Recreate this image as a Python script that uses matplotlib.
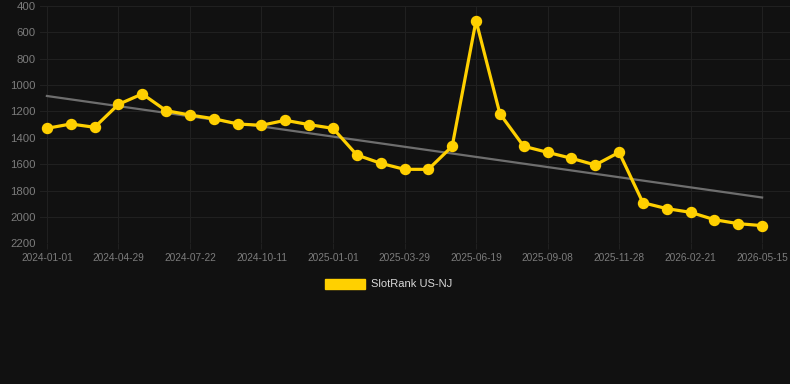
import numpy as np
import matplotlib
matplotlib.use("Agg")
import matplotlib.pyplot as plt
from matplotlib.patches import Patch

# =========================================================
# DATA
# =========================================================

tick_labels = ["2024-01-01", "2024-04-29", "2024-07-22", "2024-10-11", "2025-01-01",
               "2025-03-29", "2025-06-19", "2025-09-08", "2025-11-28", "2026-02-21",
               "2026-05-15"]

rank = [1328, 1295, 1320, 1146, 1067, 1194, 1227, 1255, 1295, 1305, 1267,
        1300, 1328, 1530, 1593, 1639, 1639, 1464, 511, 1217, 1464, 1510,
        1555, 1606, 1510, 1892, 1937, 1965, 2021, 2051, 2066]

series_name = "SlotRank US-NJ"

# =========================================================
# STYLE
# =========================================================

BG = "#111111"
GRID = "#202020"
TXT = "#7c7c7c"
YELLOW = "#ffd000"
TREND = "#6e6e6e"

plt.rcParams["font.family"] = ["Liberation Sans", "DejaVu Sans"]

fig = plt.figure(figsize=(7.9, 3.84), dpi=100, facecolor=BG)
ax = fig.add_axes([40 / 790, 1 - 243.3 / 384, 750 / 790, (243.3 - 6) / 384])
ax.set_facecolor(BG)

x = np.arange(len(rank))
y = np.array(rank, dtype=float)

# trend line (least squares)
k, b = np.polyfit(x, y, 1)
ax.plot(x, k * x + b, color=TREND, lw=1.6, zorder=2)

ax.plot(x, y, color=YELLOW, lw=2.3, marker="o", ms=7.2, zorder=3)

ax.set_ylim(2200, 400)
ax.set_yticks(np.arange(400, 2201, 200))
ax.set_xlim(-0.29, 31.17)
ax.set_xticks(x[::3])
ax.set_xticklabels(tick_labels)

ax.grid(True, color=GRID, lw=0.8)
for s in ax.spines.values():
    s.set_visible(False)
ax.tick_params(axis="y", length=0, labelsize=8.2, colors=TXT, pad=3)
ax.tick_params(axis="x", length=4, color=GRID, width=0.8, labelsize=7.3, colors=TXT, pad=3)

handle = Patch(facecolor=YELLOW, edgecolor=YELLOW)
leg = fig.legend([handle], [series_name], loc="center",
                 bbox_to_anchor=(389 / 790, 1 - 284 / 384),
                 frameon=False, fontsize=8, handlelength=3.6, handleheight=1.05,
                 handletextpad=0.55, labelcolor="#d8d8d8")

fig.savefig("out.png", dpi=100, facecolor=BG)
